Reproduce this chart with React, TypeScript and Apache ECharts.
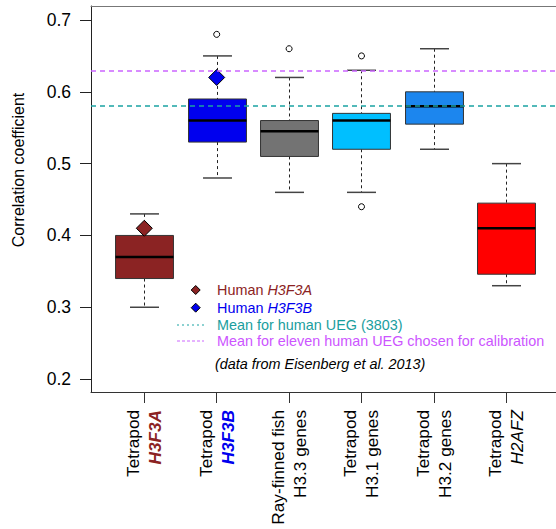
import React, { useEffect, useRef } from "react";
import * as echarts from "echarts";

const categories = ["Tetrapod H3F3A", "Tetrapod H3F3B", "Ray-finned fish H3.3 genes", "Tetrapod H3.1 genes", "Tetrapod H3.2 genes", "Tetrapod H2AFZ"];
const catLine1 = ["Tetrapod", "Tetrapod", "Ray-finned fish", "Tetrapod", "Tetrapod", "Tetrapod"];
const catLine2 = ["H3F3A", "H3F3B", "H3.3 genes", "H3.1 genes", "H3.2 genes", "H2AFZ"];
const catLine2Style = ["a", "b", "n", "n", "n", "i"];
const lowerWhisker = [0.30, 0.48, 0.46, 0.46, 0.52, 0.33];
const q1 = [0.34, 0.53, 0.51, 0.52, 0.555, 0.346];
const medians = [0.37, 0.56, 0.545, 0.56, 0.58, 0.41];
const q3 = [0.40, 0.59, 0.56, 0.57, 0.60, 0.445];
const upperWhisker = [0.43, 0.65, 0.62, 0.63, 0.66, 0.50];
const outliers = [[2, 0.68], [3, 0.66], [4, 0.65], [4, 0.44]];
const humanH3F3A = [[1, 0.41]];
const humanH3F3B = [[2, 0.62]];
const meanAllUEG = 0.577;
const meanElevenUEG = 0.628;
const yTicks = [0.2, 0.3, 0.4, 0.5, 0.6, 0.7];
const xTicks = [1, 2, 3, 4, 5, 6];

const boxColors = ["#8B2323", "#0000EE", "#737373", "#00BFFF", "#1C86EE", "#FF0000"];
const FONT = "'Liberation Sans', Arial, Helvetica, sans-serif";

export default function App() {
  const ref = useRef<HTMLDivElement>(null);
  useEffect(() => {
    if (!ref.current) return;
    const chart = echarts.init(ref.current, null, { renderer: "svg" });
    const boxData = categories.map((_, i) => [i + 1, lowerWhisker[i], q1[i], medians[i], q3[i], upperWhisker[i]]);
    const xMin = 0.2638;
    const xMax = 6.6866;
    const option: any = {
      animation: false,
      backgroundColor: "#ffffff",
      textStyle: { fontFamily: FONT },
      grid: { left: 91, right: 0, top: 6, bottom: 137 },
      xAxis: [
        {
          type: "value",
          min: xMin,
          max: xMax,
          position: "bottom",
          splitLine: { show: false },
          axisLine: { show: true, lineStyle: { color: "#333", width: 1 } },
          axisTick: { show: true, length: 11, customValues: xTicks, lineStyle: { color: "#333" } },
          axisLabel: {
            show: true,
            customValues: xTicks,
            rotate: 90,
            margin: 18,
            fontFamily: FONT,
            fontSize: 17.2,
            color: "#000",
            align: "right",
            formatter: (v: number) => {
              const i = Math.round(v) - 1;
              if (i < 0 || i >= catLine1.length) return "";
              return "{n|" + catLine1[i] + "}\n{" + catLine2Style[i] + "|" + catLine2[i] + "}";
            },
            rich: {
              n: { fontFamily: FONT, fontSize: 17.2, color: "#000", lineHeight: 22, align: "right" },
              a: { fontFamily: FONT, fontSize: 17.2, color: "#8B2323", fontWeight: "bold", fontStyle: "italic", lineHeight: 22, align: "right" },
              b: { fontFamily: FONT, fontSize: 17.2, color: "#0000EE", fontWeight: "bold", fontStyle: "italic", lineHeight: 22, align: "right" },
              i: { fontFamily: FONT, fontSize: 17.2, color: "#000", fontStyle: "italic", lineHeight: 22, align: "right" },
            },
          },
        },
        {
          type: "value",
          min: xMin,
          max: xMax,
          position: "top",
          splitLine: { show: false },
          axisLine: { show: true, lineStyle: { color: "#777", width: 1 } },
          axisTick: { show: false },
          axisLabel: { show: false },
        },
      ],
      yAxis: {
        type: "value",
        min: 0.182,
        max: 0.7195,
        splitLine: { show: false },
        axisLine: { show: true, lineStyle: { color: "#222", width: 1 } },
        axisTick: { show: true, length: 11, customValues: yTicks, lineStyle: { color: "#222" } },
        axisLabel: {
          customValues: yTicks,
          margin: 20,
          fontFamily: FONT,
          fontSize: 17.5,
          color: "#000",
          formatter: (v: number) => v.toFixed(1),
        },
      },
      series: [
        {
          type: "custom",
          xAxisIndex: 0,
          encode: { x: 0, y: [1, 2, 3, 4, 5] },
          data: boxData,
          renderItem: (params: any, api: any) => {
            const x = api.value(0);
            const lo = api.coord([x, api.value(1)]);
            const b1 = api.coord([x, api.value(2)]);
            const md = api.coord([x, api.value(3)]);
            const b3 = api.coord([x, api.value(4)]);
            const hi = api.coord([x, api.value(5)]);
            const w = api.size([0.8, 0])[0];
            const cx = Math.round(lo[0]) + 0.5;
            const color = boxColors[params.dataIndex];
            const capW = w / 2;
            return {
              type: "group",
              children: [
                { type: "line", shape: { x1: cx, y1: hi[1], x2: cx, y2: b3[1] }, style: { stroke: "#222", lineWidth: 1, lineDash: [3, 3] } },
                { type: "line", shape: { x1: cx, y1: b1[1], x2: cx, y2: lo[1] }, style: { stroke: "#222", lineWidth: 1, lineDash: [3, 3] } },
                { type: "line", shape: { x1: cx - capW / 2, y1: hi[1], x2: cx + capW / 2, y2: hi[1] }, style: { stroke: "#444", lineWidth: 1.5 } },
                { type: "line", shape: { x1: cx - capW / 2, y1: lo[1], x2: cx + capW / 2, y2: lo[1] }, style: { stroke: "#444", lineWidth: 1.5 } },
                { type: "rect", shape: { x: cx - w / 2, y: b3[1], width: w, height: b1[1] - b3[1] }, style: { fill: color, stroke: "#333", lineWidth: 1 } },
                { type: "line", shape: { x1: cx - w / 2, y1: md[1], x2: cx + w / 2, y2: md[1] }, style: { stroke: "#000", lineWidth: 2.5 } },
              ],
            };
          },
          z: 2,
        },
        {
          type: "scatter",
          xAxisIndex: 0,
          data: outliers,
          symbol: "circle",
          symbolSize: 6,
          itemStyle: { color: "#fff", borderColor: "#000", borderWidth: 1, opacity: 1 },
          z: 3,
        },
        {
          type: "scatter",
          name: "Human H3F3A",
          xAxisIndex: 0,
          data: humanH3F3A,
          symbol: "diamond",
          symbolSize: 16,
          itemStyle: { color: "#8B2323", borderColor: "#000", borderWidth: 1, opacity: 1 },
          z: 3,
        },
        {
          type: "scatter",
          name: "Human H3F3B",
          xAxisIndex: 0,
          data: humanH3F3B,
          symbol: "diamond",
          symbolSize: 16,
          itemStyle: { color: "#0000EE", borderColor: "#000", borderWidth: 1, opacity: 1 },
          z: 3,
        },
        {
          type: "line",
          xAxisIndex: 0,
          data: [],
          z: 5,
          markLine: {
            silent: true,
            symbol: "none",
            label: { show: false },
            data: [
              { yAxis: meanAllUEG, lineStyle: { color: "#1AA3A3", type: [5, 4], width: 1.5, opacity: 1 } },
              { yAxis: meanElevenUEG, lineStyle: { color: "#CC66FF", type: [5, 4], width: 1.5, opacity: 1 } },
            ],
          },
        },
      ],
      graphic: [
        {
          type: "text",
          x: 18,
          y: 170,
          rotation: Math.PI / 2,
          style: { text: "Correlation coefficient", fontFamily: FONT, fontSize: 16, fill: "#000", align: "center", verticalAlign: "middle" },
        },
        {
          type: "polygon",
          shape: { points: [[195.7, 285.5], [200.2, 290], [195.7, 294.5], [191.2, 290]] },
          style: { fill: "#8B2323", stroke: "#000", lineWidth: 1 },
        },
        {
          type: "polygon",
          shape: { points: [[195.7, 303.2], [200.2, 307.7], [195.7, 312.2], [191.2, 307.7]] },
          style: { fill: "#0000EE", stroke: "#000", lineWidth: 1 },
        },
        {
          type: "line",
          shape: { x1: 177, y1: 325, x2: 204, y2: 325 },
          style: { stroke: "#1AA3A3", lineWidth: 1, lineDash: [2, 3] },
        },
        {
          type: "line",
          shape: { x1: 177, y1: 341, x2: 204, y2: 341 },
          style: { stroke: "#CC66FF", lineWidth: 1, lineDash: [3, 2] },
        },
        {
          type: "text",
          x: 217,
          y: 290,
          style: {
            text: "{r|Human }{ri|H3F3A}",
            verticalAlign: "middle",
            rich: {
              r: { fontFamily: FONT, fontSize: 14.4, fill: "#8B2323" },
              ri: { fontFamily: FONT, fontSize: 14.4, fill: "#8B2323", fontStyle: "italic" },
            },
          },
        },
        {
          type: "text",
          x: 217,
          y: 308,
          style: {
            text: "{r|Human }{ri|H3F3B}",
            verticalAlign: "middle",
            rich: {
              r: { fontFamily: FONT, fontSize: 14.4, fill: "#0000EE" },
              ri: { fontFamily: FONT, fontSize: 14.4, fill: "#0000EE", fontStyle: "italic" },
            },
          },
        },
        {
          type: "text",
          x: 217,
          y: 325,
          style: { text: "Mean for human UEG (3803)", fontFamily: FONT, fontSize: 14.4, fill: "#1A9E9E", verticalAlign: "middle" },
        },
        {
          type: "text",
          x: 217,
          y: 341,
          style: { text: "Mean for eleven human UEG chosen for calibration", fontFamily: FONT, fontSize: 14.4, fill: "#CC55FF", verticalAlign: "middle" },
        },
        {
          type: "text",
          x: 215,
          y: 364,
          style: { text: "(data from Eisenberg et al. 2013)", fontFamily: FONT, fontSize: 14.4, fontStyle: "italic", fill: "#000", verticalAlign: "middle" },
        },
      ],
    };
    chart.setOption(option);
    return () => chart.dispose();
  }, []);
  return <div ref={ref} style={{ position: "fixed", left: 0, top: 0, width: 556, height: 529 }} />;
}
